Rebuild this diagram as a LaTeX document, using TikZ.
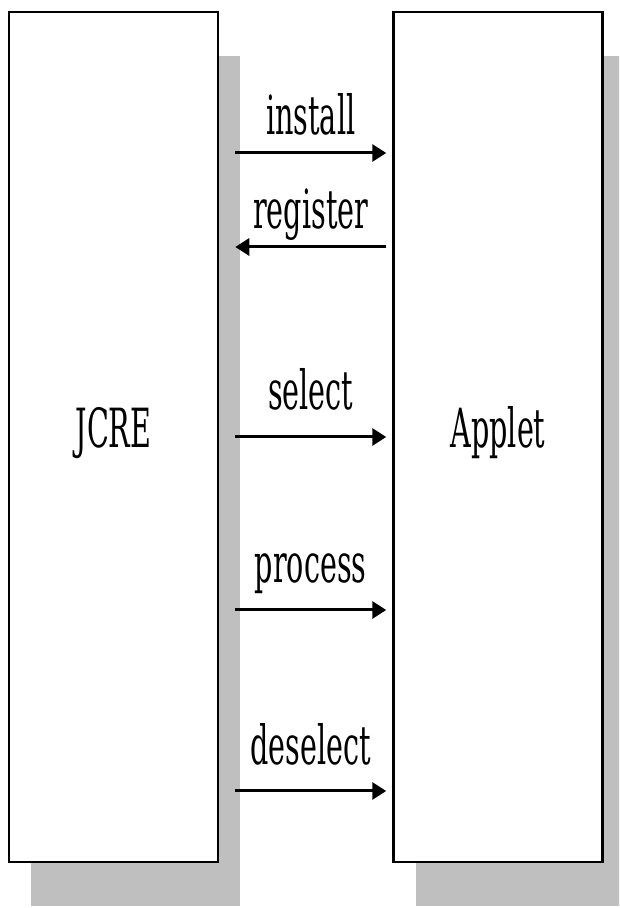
\documentclass[tikz,border=0pt]{standalone}
\usepackage{fontspec}
\setmainfont{DejaVu Serif}
\usetikzlibrary{calc,arrows.meta,shadows}

\tikzset{
  unit/.style={draw, line width=2.5pt, fill=white, minimum width=209pt, minimum height=850pt,
               inner sep=0pt, text height=40pt, text depth=18pt,
               general shadow={fill=black!25, shadow xshift=22pt, shadow yshift=-44pt}},
  msg/.style={line width=3pt, -{Triangle[length=14pt,width=17pt]}},
}
\def\narrow#1{\scalebox{0.53}[1]{\fontsize{54}{60}\selectfont #1}}
% one message between the two units: (name, height above centre, label lift, text, direction)
\def\message(#1,#2,#3,#4,#5){
  \coordinate (#1_l) at ($(jcre.east)+(16,#2)$);
  \coordinate (#1_r) at ($(applet.west)+(-6,#2)$);
  \ifx#5r
    \draw[msg] (#1_l) -- node[anchor=base, yshift=#3] (#1_txt) {\narrow{#4}} (#1_r);
  \else
    \draw[msg] (#1_r) -- node[anchor=base, yshift=#3] (#1_txt) {\narrow{#4}} (#1_l);
  \fi
}

\begin{document}
\begin{tikzpicture}[x=1pt,y=1pt]
\clip (0,0) rectangle (619,908);
\node[unit] (jcre) at (113.5,471) {\narrow{JCRE}};
\node[unit] (applet) at (498,471) {\narrow{Applet}};
\message(install,284,18,install,r)
\message(register,190,18,register,l)
\message(select,0,27,select,r)
\message(process,-173,27,process,r)
\message(deselect,-354,26,deselect,r)
\end{tikzpicture}
\end{document}
